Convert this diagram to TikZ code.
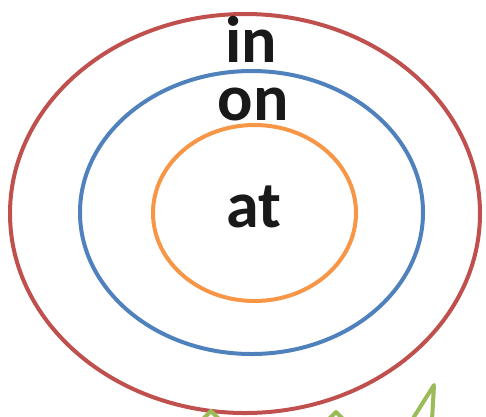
\documentclass[tikz,border=0pt]{standalone}
\usepackage{fontspec}
\setmainfont{Carlito}
\usetikzlibrary{calc}
\definecolor{cred}{HTML}{C0504D}
\definecolor{cblue}{HTML}{4F81BD}
\definecolor{corange}{HTML}{F79646}
\definecolor{cgreen}{HTML}{9BBB59}
\tikzset{
  ring/.style={line width=4pt},
  word/.style={font=\bfseries\fontsize{66}{66}\selectfont, inner sep=0pt, text=black!90},
  greenline/.style={cgreen, line width=4pt, line join=round, line cap=round},
}
\begin{document}
\begin{tikzpicture}[x=1pt,y=-1pt]
\useasboundingbox (0,0) rectangle (486,416);
\begin{scope}
\clip (0,0) rectangle (486,416);
\draw[ring, cred] (245,213.5) ellipse [x radius=235, y radius=199.5];
\draw[ring, cblue] (251.5,212.5) ellipse [x radius=171.5, y radius=141.5];
\draw[ring, corange] (254.5,213) ellipse [x radius=101.5, y radius=88];
\coordinate (g1) at (211,411);
\coordinate (g2) at (336,412);
\coordinate (g3) at (434,385);
\draw[greenline] ($(g1)+(-8,8)$) -- (g1) -- ($(g1)+(8,8)$);
\draw[greenline] ($(g2)+(-8,8)$) -- (g2) -- ($(g2)+(8,8)$);
\draw[greenline] (412,420) -- (g3) -- (432,420);
\end{scope}
\node[word] (win) at (251,39) {in};
\node[word] (won) at (253,104) {on};
\node[word] (wat) at (254,207) {at};
\end{tikzpicture}
\end{document}
